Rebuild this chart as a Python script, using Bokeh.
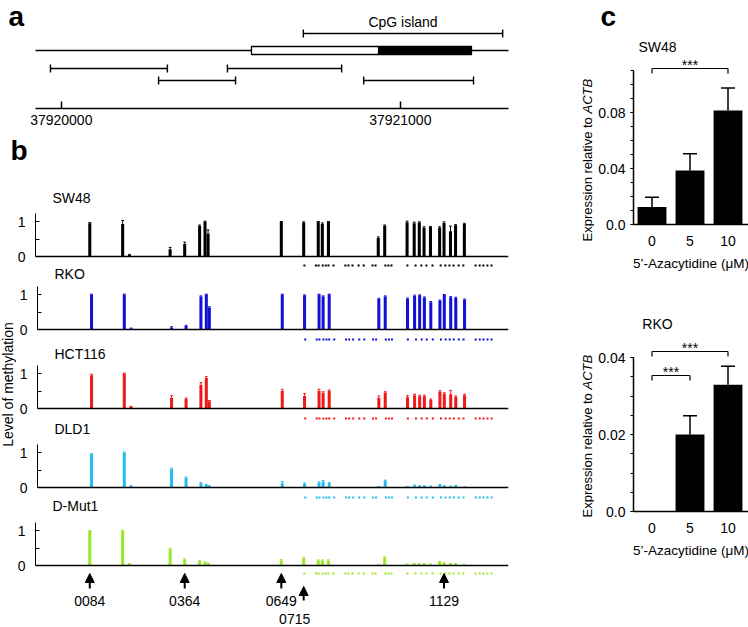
import math
from bokeh.plotting import figure
from bokeh.layouts import column, row
from bokeh.models import (Range1d, FixedTicker, Span, Label, Arrow, NormalHead,
                          TeeHead, Whisker, ColumnDataSource)
from bokeh.core.properties import value
from bokeh.embed import file_html
from bokeh.resources import INLINE

FONT = "Liberation Sans"

# ============================ DATA ============================
# panel a : genomic map (chromosome coordinates)
AXIS_TICKS = [37920000, 37921000]
GENE_LINE = [37919924, 37921319]
EXON_UTR = [37920561, 37920936]          # open box
EXON_CDS = [37920936, 37921210]          # filled box
CPG_ISLAND = [37920714, 37921302]
AMPLICON_START = [37919968, 37920287, 37920490, 37920892]
AMPLICON_END = [37920313, 37920514, 37920827, 37921216]
AMPLICON_ROW = [0, 1, 0, 1]

# panel b : methylation level per CpG site (position relative to 37920000)
COORD_ORIGIN = 37920000
CPG_SITES = [84, 181, 201, 321, 364, 408, 424, 433, 649, 715, 758, 770, 788,
             935, 954, 1020, 1041, 1056, 1070, 1089, 1116, 1129, 1148, 1163, 1189]
CELL_LINES = ["SW48", "RKO", "HCT116", "DLD1", "D-Mut1"]
SW48_METH = [0.95, 0.93, 0.05, 0.21, 0.36, 0.87, 0.99, 0.66, 0.99, 0.97, 0.99, 0.93, 0.99,
             0.53, 0.88, 0.98, 0.95, 0.97, 0.82, 0.84, 0.82, 0.96, 0.72, 0.89, 0.93]
SW48_ERR = [0.02, 0.10, 0.01, 0.05, 0.05, 0.03, 0.02, 0.10, 0.01, 0.02, 0.01, 0.03, 0.01,
            0.03, 0.02, 0.03, 0.03, 0.02, 0.03, 0.02, 0.03, 0.03, 0.15, 0.02, 0.02]
RKO_METH = [1.00, 1.00, 0.03, 0.06, 0.10, 0.94, 1.00, 0.63, 1.00, 0.98, 1.00, 0.94, 1.00,
            0.87, 0.94, 0.88, 0.96, 0.98, 0.91, 0.78, 0.82, 0.99, 0.92, 0.90, 0.85]
RKO_ERR = [0.01, 0.01, 0.01, 0.02, 0.02, 0.02, 0.01, 0.02, 0.01, 0.01, 0.01, 0.02, 0.01,
           0.02, 0.02, 0.02, 0.02, 0.01, 0.02, 0.02, 0.02, 0.01, 0.02, 0.02, 0.02]
HCT116_METH = [0.95, 1.00, 0.05, 0.31, 0.27, 0.68, 0.87, 0.21, 0.50, 0.36, 0.51, 0.45, 0.50,
               0.30, 0.46, 0.32, 0.38, 0.35, 0.35, 0.25, 0.48, 0.42, 0.41, 0.33, 0.38]
HCT116_ERR = [0.03, 0.01, 0.01, 0.06, 0.03, 0.06, 0.04, 0.02, 0.05, 0.07, 0.04, 0.03, 0.03,
              0.06, 0.02, 0.05, 0.03, 0.03, 0.03, 0.02, 0.03, 0.03, 0.11, 0.03, 0.03]
DLD1_METH = [0.95, 1.00, 0.04, 0.52, 0.27, 0.12, 0.07, 0.04, 0.12, 0.10, 0.13, 0.17, 0.12,
             0.02, 0.19, 0.02, 0.06, 0.04, 0.04, 0.03, 0.07, 0.04, 0.03, 0.05, 0.01]
DLD1_ERR = [0.02, 0.01, 0.01, 0.03, 0.03, 0.02, 0.02, 0.01, 0.05, 0.03, 0.03, 0.03, 0.02,
            0.01, 0.02, 0.01, 0.01, 0.01, 0.01, 0.01, 0.02, 0.01, 0.01, 0.01, 0.01]
DMUT1_METH = [0.99, 1.00, 0.05, 0.47, 0.17, 0.12, 0.09, 0.06, 0.14, 0.21, 0.14, 0.14, 0.14,
              0.01, 0.23, 0.03, 0.05, 0.04, 0.04, 0.03, 0.10, 0.07, 0.05, 0.05, 0.01]
DMUT1_ERR = [0.01, 0.01, 0.01, 0.02, 0.02, 0.02, 0.01, 0.01, 0.03, 0.02, 0.02, 0.02, 0.02,
             0.01, 0.02, 0.01, 0.01, 0.01, 0.01, 0.01, 0.02, 0.01, 0.01, 0.01, 0.01]
# sites marked below each axis (dot rows)
DOT_SITES = [717, 751, 759, 771, 780, 788, 803, 838, 847, 859, 877, 892, 918, 927,
             956, 965, 974, 1021, 1045, 1062, 1077, 1095, 1119, 1133, 1145, 1157,
             1172, 1186, 1222, 1234, 1245, 1257, 1269]
ARROW_SITES = [84, 364, 649, 715, 1129]

# panel c : expression relative to ACTB after 5'-Azacytidine
DOSES = ["0", "5", "10"]
SW48_EXPR = [0.0125, 0.0385, 0.0815]
SW48_EXPR_ERR = [0.0070, 0.0120, 0.0160]
RKO_EXPR = [0.0, 0.0200, 0.0329]
RKO_EXPR_ERR = [0.0, 0.0049, 0.0048]
SW48_SIG = [(0, 2, "***")]
RKO_SIG = [(0, 2, "***"), (0, 1, "***")]

METH = {"SW48": SW48_METH, "RKO": RKO_METH, "HCT116": HCT116_METH,
        "DLD1": DLD1_METH, "D-Mut1": DMUT1_METH}
METH_ERR = {"SW48": SW48_ERR, "RKO": RKO_ERR, "HCT116": HCT116_ERR,
            "DLD1": DLD1_ERR, "D-Mut1": DMUT1_ERR}
COLORS = {"SW48": "#000000", "RKO": "#1212d4", "HCT116": "#ee1a1a",
          "DLD1": "#22bdee", "D-Mut1": "#9ee62a"}

# ============================ LAYOUT (page px) ============================
PXBP = 0.339          # px per bp
ORIGIN_PX = 60.8      # x px of position 0
FRAME_L, FRAME_R = 35, 508
LEFT_W = 548
U = 35.0              # px per methylation unit


def bp(xpx):
    return (xpx - ORIGIN_PX) / PXBP


def base_fig(**kw):
    p = figure(output_backend="svg", toolbar_location=None, tools="", title=None,
               outline_line_color=None, min_border=0, frame_align=False, **kw)
    p.grid.visible = False
    return p


def lab(**kw):
    d = dict(text_font=FONT, text_font_size="14px", text_color="black")
    d.update(kw)
    return Label(**d)


def text_fig(x0, x1, top, bottom, items):
    """Figure holding free text only; items: (x, y, text, kwargs) in page px."""
    p = base_fig(width=x1 - x0, height=bottom - top, x_range=Range1d(x0, x1),
                 y_range=Range1d(0, bottom - top), x_axis_location=None, y_axis_location=None)
    for (x, y, t, kw) in items:
        d = dict(text_font=value(FONT), text_font_size="14px", text_color="black",
                 text_align="left", text_baseline="middle")
        d.update(kw)
        p.text(x=[x], y=[bottom - y], text=[t], **d)
    return p


# ---------------- panel a ----------------
A_AXIS = 108
pa = base_fig(width=LEFT_W, height=132,
              x_range=Range1d(COORD_ORIGIN + bp(0), COORD_ORIGIN + bp(LEFT_W)),
              y_range=Range1d(0, A_AXIS), y_axis_location=None, min_border_bottom=24)
ax = pa.xaxis[0]
ax.ticker = FixedTicker(ticks=AXIS_TICKS)
ax.bounds = (GENE_LINE[0], GENE_LINE[1])
ax.major_label_overrides = {t: str(t) for t in AXIS_TICKS}
ax.major_tick_in = 7
ax.major_tick_out = 0
ax.minor_tick_line_color = None
ax.axis_line_width = 1.5
ax.major_tick_line_width = 1.5
ax.axis_line_color = "black"
ax.major_tick_line_color = "black"
ax.major_label_text_font = FONT
ax.major_label_text_font_size = "14px"
ax.major_label_text_color = "black"
ax.major_label_standoff = 6


def ya(ref_y):
    return A_AXIS - ref_y


pa.segment(x0=[GENE_LINE[0]], x1=[GENE_LINE[1]], y0=[ya(50)], y1=[ya(50)],
           line_color="black", line_width=1.5)
pa.quad(left=[EXON_UTR[0], EXON_CDS[0]], right=[EXON_UTR[1], EXON_CDS[1]],
        bottom=ya(54), top=ya(46), fill_color=["white", "black"],
        line_color="black", line_width=1.3)
cy = ya(33)
pa.segment(x0=[CPG_ISLAND[0], CPG_ISLAND[0], CPG_ISLAND[1]],
           x1=[CPG_ISLAND[1], CPG_ISLAND[0], CPG_ISLAND[1]],
           y0=[cy, cy - 4, cy - 4], y1=[cy, cy + 4, cy + 4],
           line_color="black", line_width=1.4)
pa.add_layout(lab(x=(CPG_ISLAND[0] + CPG_ISLAND[1]) / 2, y=ya(21), text="CpG island",
                  text_align="center", text_baseline="middle"))
ay = [ya(68) - 12 * r for r in AMPLICON_ROW]
pa.segment(x0=AMPLICON_START, x1=AMPLICON_END, y0=ay, y1=ay, line_color="black", line_width=1.4)
pa.segment(x0=AMPLICON_START, x1=AMPLICON_START, y0=[y - 4 for y in ay], y1=[y + 4 for y in ay],
           line_color="black", line_width=1.4)
pa.segment(x0=AMPLICON_END, x1=AMPLICON_END, y0=[y - 4 for y in ay], y1=[y + 4 for y in ay],
           line_color="black", line_width=1.4)
pa.add_layout(lab(x=COORD_ORIGIN + bp(8), y=ya(16), text="a", text_font_size="28px",
                  text_font_style="bold", text_baseline="middle"))

# 'b' strip
pb_letter = text_fig(0, LEFT_W, 132, 170,
                     [(10, 150, "b", dict(text_font_size="28px", text_font_style="bold"))])


# ---------------- panel b ----------------
def meth_fig(name, top, base, bottom, left_px, title_px, dot_off=10, arrows=False):
    width = LEFT_W - left_px
    p = base_fig(width=width, height=bottom - top,
                 x_range=Range1d(bp(FRAME_L), bp(FRAME_R)),
                 y_range=Range1d(-(bottom - base) / U, (base - top) / U),
                 x_axis_location=None,
                 min_border_left=FRAME_L - left_px, min_border_right=LEFT_W - FRAME_R)
    yax = p.yaxis[0]
    yax.ticker = FixedTicker(ticks=[0, 1], minor_ticks=[0.5])
    yax.bounds = (0, 1.23)
    yax.major_tick_in = 4
    yax.major_tick_out = 0
    yax.minor_tick_in = 4
    yax.minor_tick_out = 0
    yax.axis_line_color = "black"
    yax.major_tick_line_color = "black"
    yax.minor_tick_line_color = "black"
    yax.major_label_text_font = FONT
    yax.major_label_text_font_size = "14px"
    yax.major_label_text_color = "black"
    yax.major_label_standoff = 10
    col = COLORS[name]
    vals = METH[name]
    errs = METH_ERR[name]
    p.add_layout(Span(location=0, dimension="width", line_color="black", line_width=1.5))
    p.vbar(x=CPG_SITES, top=vals, bottom=0, width=9, fill_color=col, line_color=None)
    tops = [v + e for v, e in zip(vals, errs)]
    p.segment(x0=CPG_SITES, x1=CPG_SITES, y0=vals, y1=tops, line_color=col, line_width=1)
    p.segment(x0=[s - 4 for s in CPG_SITES], x1=[s + 4 for s in CPG_SITES], y0=tops, y1=tops,
              line_color=col, line_width=1)
    p.scatter(x=DOT_SITES, y=[-dot_off / U] * len(DOT_SITES), marker="square", size=2,
              fill_color=col, line_color=None)
    p.add_layout(lab(x=bp(52), y=(base - title_px) / U, text=name, text_baseline="middle"))
    if arrows:
        arrow_row = [0, 0, 0, 1, 0]
        label_dx = [0, 0, 0, -9, 0]
        head = [-(8 + 13 * r) / U for r in arrow_row]
        tail = [-(23 + 12 * r) / U for r in arrow_row]
        ly = [-(35.5 + 17.5 * r) / U for r in arrow_row]
        src = ColumnDataSource(dict(x=ARROW_SITES, y0=tail, y1=head))
        p.add_layout(Arrow(x_start="x", y_start="y0", x_end="x", y_end="y1", source=src,
                           line_width=2, line_color="black",
                           end=NormalHead(size=9, fill_color="black", line_color="black")))
        p.text(x=ARROW_SITES, y=ly, text=[f"{a:04d}" for a in ARROW_SITES], x_offset=label_dx,
               text_align="center", text_baseline="middle", text_font=value(FONT),
               text_font_size="14px", text_color="black")
    return p


YLAB_W = 16
p_sw = meth_fig("SW48", 170, 256, 267, 0, 197, dot_off=9)
p_rko = meth_fig("RKO", 267, 329, 341, YLAB_W, 273)
p_hct = meth_fig("HCT116", 341, 408, 420, YLAB_W, 353)
p_dld = meth_fig("DLD1", 420, 487, 499, YLAB_W, 428)
p_dm = meth_fig("D-Mut1", 499, 565, 627, 0, 505, dot_off=8, arrows=True)

ylab = text_fig(0, YLAB_W, 267, 499,
                [(7, 384, "Level of methylation",
                  dict(angle=math.pi / 2, text_align="center", text_baseline="middle"))])

# ---------------- panel c ----------------
C_SPINE = 633
C_STEP = 38.0
C_LEFT = 594           # left edge of the bar-chart figures
C_RIGHT = 748
C_TOP = 36
CX0 = -18.5 / C_STEP
CX1 = CX0 + (C_RIGHT - C_SPINE) / C_STEP


def cx(xpx):
    return CX0 + (xpx - C_SPINE) / C_STEP


def expr_fig(fig_top, fig_bottom, base, unit, axis_top, major, minor, labels, vals, errs,
             sig, sig_px, title, title_px):
    frame_h = base - fig_top
    p = base_fig(width=C_RIGHT - C_LEFT, height=fig_bottom - fig_top,
                 x_range=Range1d(CX0, CX1), y_range=Range1d(0, frame_h / unit),
                 min_border_left=C_SPINE - C_LEFT, min_border_bottom=fig_bottom - base)
    xax = p.xaxis[0]
    xax.ticker = FixedTicker(ticks=list(range(len(DOSES))))
    xax.major_label_overrides = {i: d for i, d in enumerate(DOSES)}
    xax.major_tick_in = 0
    xax.major_tick_out = 0
    xax.minor_tick_line_color = None
    xax.axis_line_color = "black"
    xax.axis_line_width = 1.5
    xax.major_label_text_font = FONT
    xax.major_label_text_font_size = "14px"
    xax.major_label_text_color = "black"
    xax.major_label_standoff = 11
    xax.axis_label = "5\u2019-Azacytidine (\u03bcM)"
    xax.axis_label_text_font = FONT
    xax.axis_label_text_font_size = "13.5px"
    xax.axis_label_text_font_style = "normal"
    xax.axis_label_text_color = "black"
    xax.axis_label_standoff = 7
    yax = p.yaxis[0]
    yax.ticker = FixedTicker(ticks=major, minor_ticks=minor)
    yax.bounds = (0, axis_top)
    yax.major_label_overrides = labels
    yax.major_tick_in = 0
    yax.major_tick_out = 3
    yax.minor_tick_in = 0
    yax.minor_tick_out = 3
    yax.axis_line_color = "black"
    yax.axis_line_width = 1.5
    yax.major_tick_line_color = "black"
    yax.minor_tick_line_color = "black"
    yax.major_label_text_font = FONT
    yax.major_label_text_font_size = "14px"
    yax.major_label_text_color = "black"
    yax.major_label_standoff = 5

    xs = list(range(len(DOSES)))
    p.vbar(x=xs, top=vals, bottom=0, width=0.76, fill_color="black", line_color=None)
    keep = [i for i in xs if errs[i] > 0]
    src = ColumnDataSource(dict(x=keep, lo=[vals[i] for i in keep],
                                hi=[vals[i] + errs[i] for i in keep]))
    p.add_layout(Whisker(source=src, base="x", lower="lo", upper="hi", dimension="height",
                         line_color="black", line_width=1.5, lower_head=None,
                         upper_head=TeeHead(size=14, line_color="black", line_width=1.5)))
    drop = 5 / unit
    for (i, j, star), lv_px in zip(sig, sig_px):
        lv = (base - lv_px) / unit
        p.segment(x0=[i, i, j], x1=[j, i, j], y0=[lv, lv, lv], y1=[lv, lv - drop, lv - drop],
                  line_color="black", line_width=1.2)
        p.add_layout(lab(x=(i + j) / 2, y=lv + 3.75 / unit, text=star, text_align="center",
                         text_baseline="middle"))
    p.add_layout(lab(x=cx(657), y=(base - title_px) / unit, text=title, text_align="center",
                     text_baseline="middle"))
    return p


YL_MAIN_W = 128.0   # approx. length of "Expression relative to " at 13px
YL_ITAL_W = 34.7    # approx. length of "ACTB" (italic) at 13px


def ylabel_fig(top, bottom, anchor_px):
    return text_fig(548, C_LEFT, top, bottom, [
        (587, anchor_px + YL_MAIN_W / 2, "Expression relative to ",
         dict(angle=math.pi / 2, text_align="center", text_font_size="13px")),
        (587, anchor_px - YL_ITAL_W / 2, "ACTB",
         dict(angle=math.pi / 2, text_align="center", text_font_size="13px",
              text_font_style="italic")),
    ])


pc_letter = text_fig(548, C_RIGHT, 0, C_TOP,
                     [(600, 16, "c", dict(text_font_size="28px", text_font_style="bold"))])
sw_minor = [round(0.01 * k, 3) for k in range(12)]
p_c1 = expr_fig(C_TOP, 300, 224, 1400.0, 0.11, [0, 0.04, 0.08], sw_minor,
                {0: "0.0", 0.04: "0.04", 0.08: "0.08"},
                SW48_EXPR, SW48_EXPR_ERR, SW48_SIG, [68], "SW48", 46)
rko_minor = [round(0.005 * k, 4) for k in range(9)]
p_c2 = expr_fig(300, 627, 511, 3850.0, 0.04, [0, 0.02, 0.04], rko_minor,
                {0: "0.0", 0.02: "0.02", 0.04: "0.04"},
                RKO_EXPR, RKO_EXPR_ERR, RKO_SIG, [351, 375], "RKO", 323)

left = column(pa, pb_letter, p_sw, row(ylab, column(p_rko, p_hct, p_dld)), p_dm)
right = column(pc_letter, row(ylabel_fig(C_TOP, 300, 113), p_c1),
               row(ylabel_fig(300, 627, 389), p_c2))
layout = row(left, right)

open("out.html", "w").write(file_html(layout, INLINE))
